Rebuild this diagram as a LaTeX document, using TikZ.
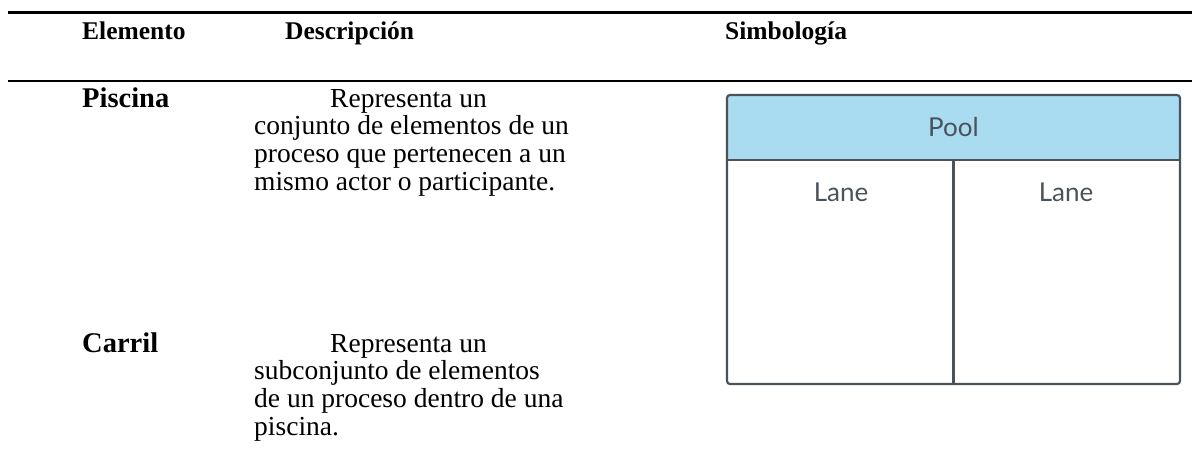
\documentclass[tikz,border=0pt]{standalone}
\usepackage{fontspec}
\setmainfont{Liberation Serif}
\newfontfamily\lanefont{Lato}
\usepackage{tikz}
\usetikzlibrary{positioning}

\definecolor{poolblue}{HTML}{AADCF1}
\definecolor{poolgray}{HTML}{4A525A}

\tikzset{
  heading/.style={anchor=base west, inner sep=0pt,
    font=\bfseries\fontsize{25.5}{28}\selectfont},
  itemname/.style={anchor=base west, inner sep=0pt,
    font=\bfseries\fontsize{28.5}{30}\selectfont},
  desctext/.style={anchor=base west, inner sep=0pt, align=left,
    font=\fontsize{27.5}{27.7}\selectfont},
  rule/.style={line width=2.6pt, black},
  boxline/.style={line width=2.2pt, poolgray, line join=round},
  lanelabel/.style={inner sep=0pt, text=poolgray,
    font=\lanefont\fontsize{26}{28}\selectfont}
}

\begin{document}
\begin{tikzpicture}[x=1pt, y=-1pt]
    \useasboundingbox (0,0) rectangle (1192,474);
    % Rules
    \coordinate (topL) at (8,12.5);
    \coordinate (topR) at (1192,12.5);
    \coordinate (midL) at (8,81);
    \coordinate (midR) at (1192,81);
    \draw[rule] (topL) -- (topR);
    \draw[rule] (midL) -- (midR);
    % Column headings
    \node[heading] (hElem) at (82,39) {Elemento};
    \node[heading] (hDesc) at (285,39) {Descripción};
    \node[heading] (hSimb) at (725,39) {Simbología};
    % Rows (node base = last line)
    \node[itemname] (piscina) at (82,107) {Piscina};
    \node[desctext] (dPiscina) at (254,190.1)
    {\hspace*{76pt}Representa un\\
     conjunto de elementos de un\\
     proceso que pertenecen a un\\
     mismo actor o participante.};
    \node[itemname] (carril) at (82,352) {Carril};
    \node[desctext] (dCarril) at (254,435.1)
    {\hspace*{76pt}Representa un\\
     subconjunto de elementos\\
     de un proceso dentro de una\\
     piscina.};
    % Pool symbol
    \begin{scope}
      \clip[rounded corners=3pt] (727,95) rectangle (1180,384);
      \fill[poolblue] (727,95) rectangle (1180,160);
    \end{scope}
    \draw[boxline] (727,160) -- (1180,160);
    \draw[boxline] (953.5,160) -- (953.5,384);
    \draw[boxline, rounded corners=3pt] (727,95) rectangle (1180,384);
    % Labels
    \node[lanelabel] (pool) at (953.5,127) {Pool};
    \node[lanelabel] (lane1) at (841,192) {Lane};
    \node[lanelabel] (lane2) at (1066,192) {Lane};
\end{tikzpicture}
\end{document}
